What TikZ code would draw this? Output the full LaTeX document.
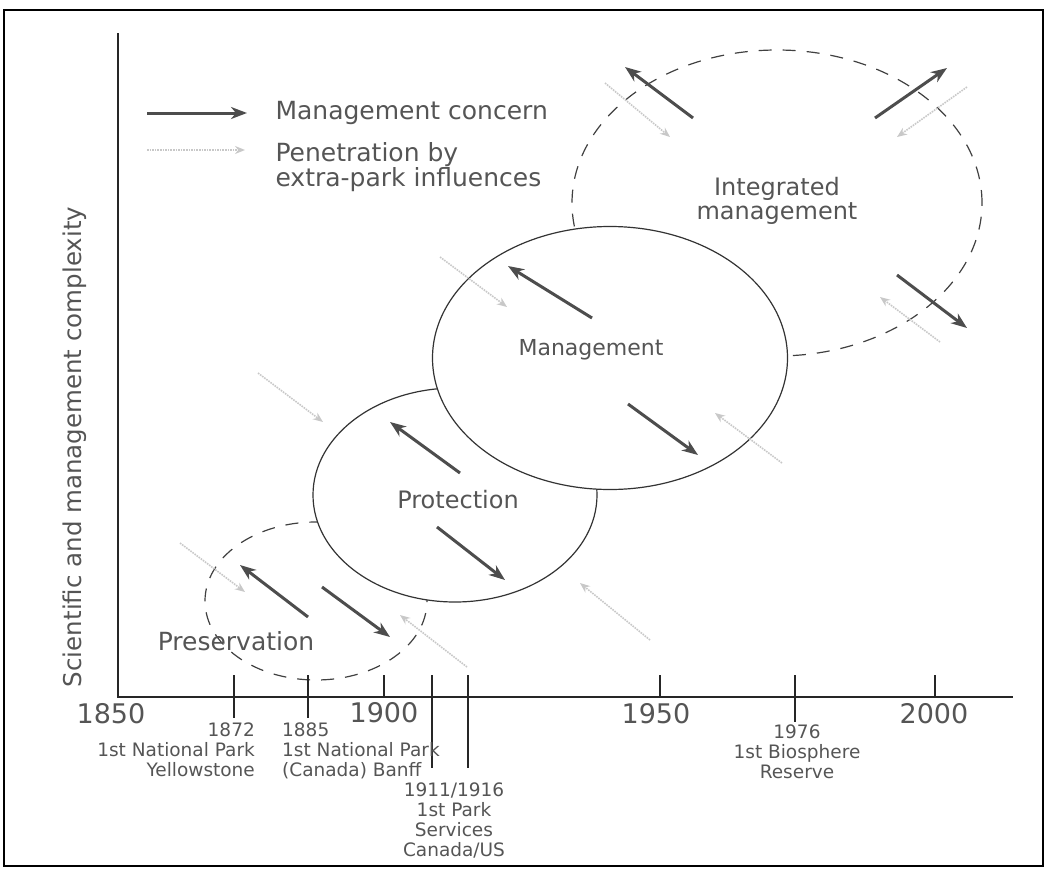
\documentclass[tikz,border=0pt]{standalone}
\usepackage{fontspec}
\setmainfont{DejaVu Sans}
\usetikzlibrary{positioning, shapes.geometric, arrows.meta}
\definecolor{inkgray}{HTML}{555555}
\definecolor{arrowgray}{HTML}{4D4D4D}
\definecolor{faintgray}{HTML}{C8C8C8}

\begin{document}
\begin{tikzpicture}[x=1pt, y=-1pt, font=\fontsize{24}{24}\selectfont, text=inkgray]
  \tikzset{
    axisline/.style={draw=black!85, line width=1.4pt},
    tickmark/.style={draw=black!85, line width=1.4pt},
    phase/.style={ellipse, draw=black!80, line width=1.2pt, fill=white, inner sep=0pt},
    dashphase/.style={ellipse, draw=black!75, line width=1.2pt, dash pattern=on 13pt off 11pt, inner sep=0pt},
    concern/.style={draw=arrowgray, line width=3pt, -{Stealth[length=16pt, width=12pt, inset=5pt]}},
    influence/.style={draw=faintgray, line width=1.6pt, densely dotted, -{Stealth[open, length=10pt, width=8pt]}},
    yearlabel/.style={font=\fontsize{27}{30}\selectfont},
    eventlabel/.style={font=\fontsize{18.5}{20}\selectfont, inner sep=0pt},
    phaselabel/.style={font=\fontsize{24}{24}\selectfont, align=center},
  }

  \useasboundingbox (0,0) rectangle (1047,870);
  \draw[line width=2pt] (4,10) rectangle (1043,866);

  % axes
  \coordinate (origin) at (118,697);
  \coordinate (ytop) at (118,33);
  \coordinate (xend) at (1013,697);
  \draw[axisline] (ytop) -- (origin) -- (xend);
  \node[rotate=90, font=\fontsize{24.5}{26}\selectfont] (ylab) at (75,447) {Scientific and management complexity};

  % phases, back to front
  \node[dashphase, minimum width=410pt, minimum height=306pt] (integ) at (777,203) {};
  \node[dashphase, minimum width=222pt, minimum height=158pt] (pres) at (316,601) {};
  \node[phase, minimum width=284pt, minimum height=214pt] (prot) at (455,495) {};
  \node[phase, minimum width=355pt, minimum height=263pt] (mgmt) at (610,358) {};

  \node[phaselabel, font=\fontsize{25}{25}\selectfont] (presl) at (236,641) {Preservation};
  \node[phaselabel] (protl) at (458,500) {Protection};
  \node[phaselabel, font=\fontsize{22}{22}\selectfont] (mgmtl) at (591,350) {Management};
  \node[phaselabel] (integl) at (777,201) {Integrated\\management};

  % legend
  \coordinate (lgca) at (147,113);
  \coordinate (lgcb) at (247,113);
  \coordinate (lgia) at (147,150);
  \coordinate (lgib) at (245,150);
  \draw[concern] (lgca) -- (lgcb);
  \draw[influence] (lgia) -- (lgib);
  \node[anchor=west, font=\fontsize{25}{25}\selectfont] (lgct) at (272,113) {Management concern};
  \node[anchor=west, align=left, font=\fontsize{25}{24}\selectfont] (lgit) at (272,167) {Penetration by\\extra-park influences};

  % ticks
  \foreach \x/\y in {234/718, 308/718, 432/768, 468/768, 795/722}
    \draw[tickmark] (\x,675) -- (\x,\y);
  \foreach \x in {384, 660, 935}
    \draw[tickmark] (\x,675) -- (\x,697);

  \node[yearlabel] (y1850) at (111,714) {1850};
  \node[yearlabel] (y1900) at (384,713) {1900};
  \node[yearlabel] (y1950) at (656,714) {1950};
  \node[yearlabel] (y2000) at (934,714) {2000};

  \node[eventlabel, align=right, anchor=north east] (ev1872) at (255,723) {1872\\1st National Park\\Yellowstone};
  \node[eventlabel, align=left, anchor=north west] (ev1885) at (282,723) {1885\\1st National Park\\(Canada) Banff};
  \node[eventlabel, align=center, anchor=north] (ev1911) at (454,783) {1911/1916\\1st Park\\Services\\Canada/US};
  \node[eventlabel, align=center, anchor=north] (ev1976) at (797,725) {1976\\1st Biosphere\\Reserve};

  % management concerns
  \foreach \xa/\ya/\xb/\yb in {308/617/240/565, 322/587/390/637, 460/473/390/422, 437/527/505/580,
      592/318/508/266, 628/404/698/455, 693/118/625/67, 875/118/947/68, 897/275/967/328}
    \draw[concern] (\xa,\ya) -- (\xb,\yb);

  % extra-park influences
  \foreach \xa/\ya/\xb/\yb in {605/83/670/137, 967/87/897/137, 940/342/880/297, 440/257/507/307,
      258/373/323/422, 180/543/245/592, 467/667/400/615, 650/640/580/583, 782/463/715/413}
    \draw[influence] (\xa,\ya) -- (\xb,\yb);
\end{tikzpicture}
\end{document}
